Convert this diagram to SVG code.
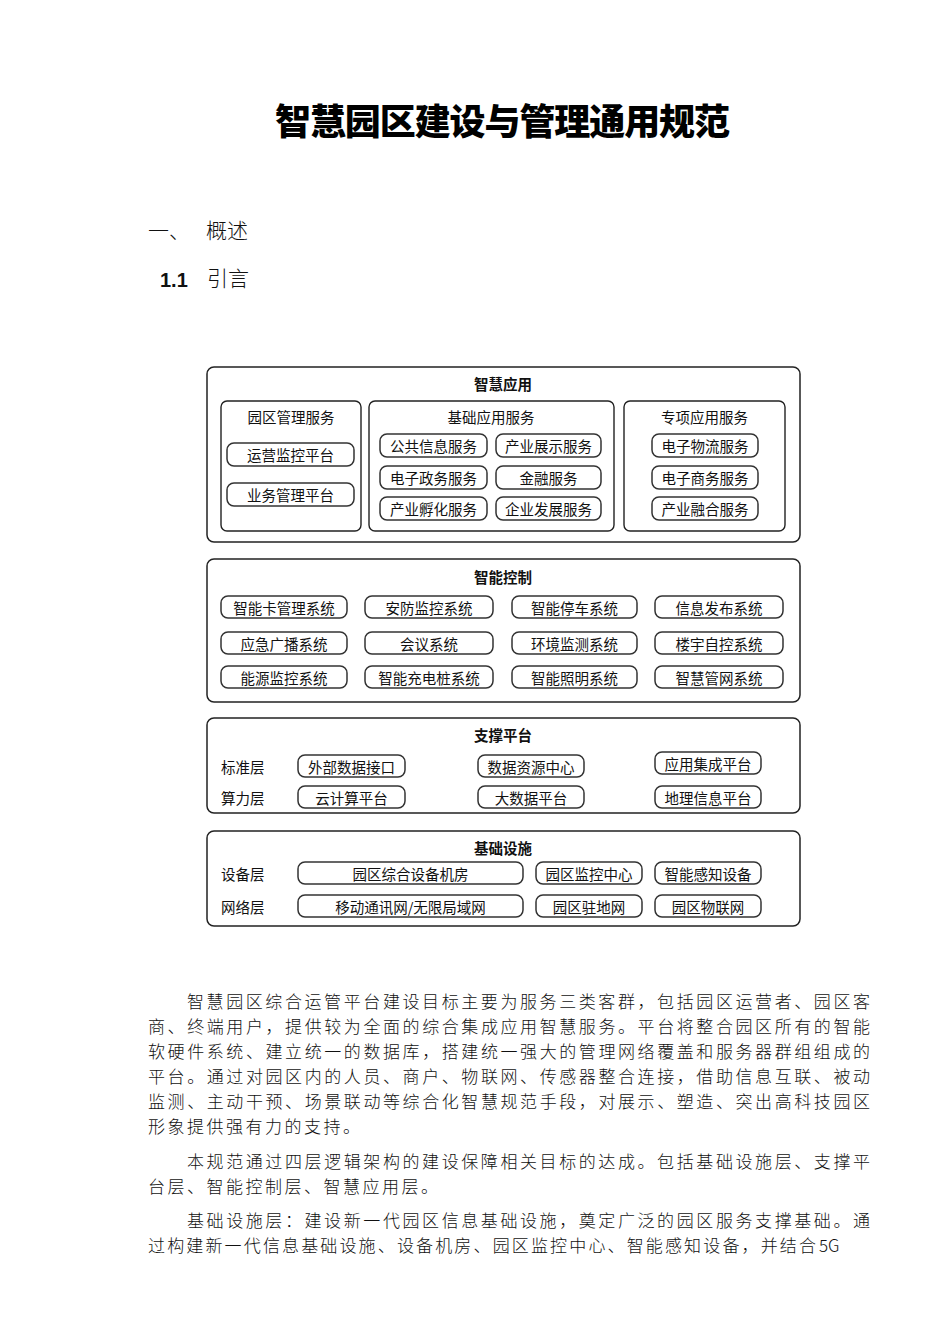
<svg xmlns="http://www.w3.org/2000/svg" width="950" height="1344" viewBox="0 0 950 1344">
<style>
.bg{fill:#fff}
.box{fill:#fff;stroke:#222;stroke-width:1.5}
.sub{fill:#fff;stroke:#222;stroke-width:1.4}
.pill{fill:#fff;stroke:#333;stroke-width:1.5}
.t{font-family:"Noto Sans CJK SC","Noto Sans",sans-serif;font-size:14.5px;fill:#111;text-anchor:middle;dominant-baseline:central}
.l{font-family:"Noto Sans CJK SC","Noto Sans",sans-serif;font-size:14.5px;fill:#111;dominant-baseline:central}
.b{font-weight:bold}
.title{font-family:"Noto Sans CJK SC",sans-serif;font-size:36px;font-weight:900;fill:#000}
.h{font-family:"Noto Sans CJK SC",sans-serif;font-size:21px;font-weight:300;fill:#111}
.p{font-family:"Noto Sans CJK SC",sans-serif;font-size:17px;font-weight:300;fill:#111}
</style>
<rect class="bg" x="0" y="0" width="950" height="1344"/>

<g id="heading">
<text class="title" x="275" y="135" textLength="455" lengthAdjust="spacing">智慧园区建设与管理通用规范</text>
<text class="h" x="148" y="238">一、</text>
<text class="h" x="206" y="238">概述</text>
<text x="160" y="287" style="font-family:'Liberation Sans',Arial,sans-serif;font-size:20px;font-weight:bold;fill:#111">1.1</text>
<text class="h" x="207" y="286">引言</text>
</g>

<g id="layer-app">
<rect class="box" x="207" y="367" width="593" height="175" rx="7"/>
<text class="t b" x="503" y="383">智慧应用</text>
<g id="park-mgmt">
<rect class="sub" x="221" y="401" width="140" height="130" rx="6"/>
<text class="t" x="291" y="416">园区管理服务</text>
<rect class="pill" x="227" y="443" width="127" height="23" rx="7"/><text class="t" x="290.5" y="454.5">运营监控平台</text>
<rect class="pill" x="227" y="483" width="127" height="23" rx="7"/><text class="t" x="290.5" y="494.5">业务管理平台</text>
</g>
<g id="basic-app">
<rect class="sub" x="369" y="401" width="245" height="130" rx="6"/>
<text class="t" x="491" y="416">基础应用服务</text>
<rect class="pill" x="380" y="434" width="107" height="23" rx="7"/><text class="t" x="433.5" y="445.5">公共信息服务</text>
<rect class="pill" x="496" y="434" width="105" height="23" rx="7"/><text class="t" x="548.5" y="445.5">产业展示服务</text>
<rect class="pill" x="380" y="466" width="107" height="23" rx="7"/><text class="t" x="433.5" y="477.5">电子政务服务</text>
<rect class="pill" x="496" y="466" width="105" height="23" rx="7"/><text class="t" x="548.5" y="477.5">金融服务</text>
<rect class="pill" x="380" y="497" width="107" height="23" rx="7"/><text class="t" x="433.5" y="508.5">产业孵化服务</text>
<rect class="pill" x="496" y="497" width="105" height="23" rx="7"/><text class="t" x="548.5" y="508.5">企业发展服务</text>
</g>
<g id="special-app">
<rect class="sub" x="624" y="401" width="161" height="130" rx="6"/>
<text class="t" x="704.5" y="416">专项应用服务</text>
<rect class="pill" x="652" y="434" width="106" height="23" rx="7"/><text class="t" x="705" y="445.5">电子物流服务</text>
<rect class="pill" x="652" y="466" width="106" height="23" rx="7"/><text class="t" x="705" y="477.5">电子商务服务</text>
<rect class="pill" x="652" y="497" width="106" height="23" rx="7"/><text class="t" x="705" y="508.5">产业融合服务</text>
</g>
</g>

<g id="layer-control">
<rect class="box" x="207" y="559" width="593" height="143" rx="7"/>
<text class="t b" x="503" y="576">智能控制</text>
<rect class="pill" x="221" y="596" width="126" height="22" rx="7"/><text class="t" x="284" y="607">智能卡管理系统</text>
<rect class="pill" x="365" y="596" width="128" height="22" rx="7"/><text class="t" x="429" y="607">安防监控系统</text>
<rect class="pill" x="512" y="596" width="125" height="22" rx="7"/><text class="t" x="574.5" y="607">智能停车系统</text>
<rect class="pill" x="655" y="596" width="128" height="22" rx="7"/><text class="t" x="719" y="607">信息发布系统</text>
<rect class="pill" x="221" y="632" width="126" height="22" rx="7"/><text class="t" x="284" y="643">应急广播系统</text>
<rect class="pill" x="365" y="632" width="128" height="22" rx="7"/><text class="t" x="429" y="643">会议系统</text>
<rect class="pill" x="512" y="632" width="125" height="22" rx="7"/><text class="t" x="574.5" y="643">环境监测系统</text>
<rect class="pill" x="655" y="632" width="128" height="22" rx="7"/><text class="t" x="719" y="643">楼宇自控系统</text>
<rect class="pill" x="221" y="666" width="126" height="22" rx="7"/><text class="t" x="284" y="677">能源监控系统</text>
<rect class="pill" x="365" y="666" width="128" height="22" rx="7"/><text class="t" x="429" y="677">智能充电桩系统</text>
<rect class="pill" x="512" y="666" width="125" height="22" rx="7"/><text class="t" x="574.5" y="677">智能照明系统</text>
<rect class="pill" x="655" y="666" width="128" height="22" rx="7"/><text class="t" x="719" y="677">智慧管网系统</text>
</g>

<g id="layer-support">
<rect class="box" x="207" y="718" width="593" height="95" rx="7"/>
<text class="t b" x="503" y="734">支撑平台</text>
<text class="l" x="221" y="766">标准层</text>
<text class="l" x="221" y="797">算力层</text>
<rect class="pill" x="298" y="755" width="107" height="22" rx="7"/><text class="t" x="351.5" y="766">外部数据接口</text>
<rect class="pill" x="478" y="755" width="106" height="22" rx="7"/><text class="t" x="531" y="766">数据资源中心</text>
<rect class="pill" x="655" y="752" width="106" height="22" rx="7"/><text class="t" x="708" y="763">应用集成平台</text>
<rect class="pill" x="298" y="786" width="107" height="22" rx="7"/><text class="t" x="351.5" y="797">云计算平台</text>
<rect class="pill" x="478" y="786" width="106" height="22" rx="7"/><text class="t" x="531" y="797">大数据平台</text>
<rect class="pill" x="655" y="786" width="106" height="22" rx="7"/><text class="t" x="708" y="797">地理信息平台</text>
</g>

<g id="layer-infra">
<rect class="box" x="207" y="831" width="593" height="95" rx="7"/>
<text class="t b" x="503" y="847">基础设施</text>
<text class="l" x="221" y="873">设备层</text>
<text class="l" x="221" y="906">网络层</text>
<rect class="pill" x="298" y="862" width="225" height="22" rx="7"/><text class="t" x="410.5" y="873">园区综合设备机房</text>
<rect class="pill" x="536" y="862" width="106" height="22" rx="7"/><text class="t" x="589" y="873">园区监控中心</text>
<rect class="pill" x="655" y="862" width="106" height="22" rx="7"/><text class="t" x="708" y="873">智能感知设备</text>
<rect class="pill" x="298" y="895" width="225" height="22" rx="7"/><text class="t" x="410.5" y="906">移动通讯网/无限局域网</text>
<rect class="pill" x="536" y="895" width="106" height="22" rx="7"/><text class="t" x="589" y="906">园区驻地网</text>
<rect class="pill" x="655" y="895" width="106" height="22" rx="7"/><text class="t" x="708" y="906">园区物联网</text>
</g>

<g id="body">
<text class="p" x="187" y="1008" textLength="683" lengthAdjust="spacing">智慧园区综合运管平台建设目标主要为服务三类客群，包括园区运营者、园区客</text>
<text class="p" x="148" y="1033" textLength="722" lengthAdjust="spacing">商、终端用户，提供较为全面的综合集成应用智慧服务。平台将整合园区所有的智能</text>
<text class="p" x="148" y="1058" textLength="722" lengthAdjust="spacing">软硬件系统、建立统一的数据库，搭建统一强大的管理网络覆盖和服务器群组组成的</text>
<text class="p" x="148" y="1083" textLength="722" lengthAdjust="spacing">平台。通过对园区内的人员、商户、物联网、传感器整合连接，借助信息互联、被动</text>
<text class="p" x="148" y="1108" textLength="722" lengthAdjust="spacing">监测、主动干预、场景联动等综合化智慧规范手段，对展示、塑造、突出高科技园区</text>
<text class="p" x="148" y="1133" textLength="212" lengthAdjust="spacing">形象提供强有力的支持。</text>
<text class="p" x="187" y="1168" textLength="683" lengthAdjust="spacing">本规范通过四层逻辑架构的建设保障相关目标的达成。包括基础设施层、支撑平</text>
<text class="p" x="148" y="1193" textLength="290" lengthAdjust="spacing">台层、智能控制层、智慧应用层。</text>
<text class="p" x="187" y="1227" textLength="683" lengthAdjust="spacing">基础设施层：建设新一代园区信息基础设施，奠定广泛的园区服务支撑基础。通</text>
<text class="p" x="148" y="1252" textLength="668" lengthAdjust="spacing">过构建新一代信息基础设施、设备机房、园区监控中心、智能感知设备，并结合</text>
<text class="p" x="819" y="1252">5G</text>
</g>
</svg>
